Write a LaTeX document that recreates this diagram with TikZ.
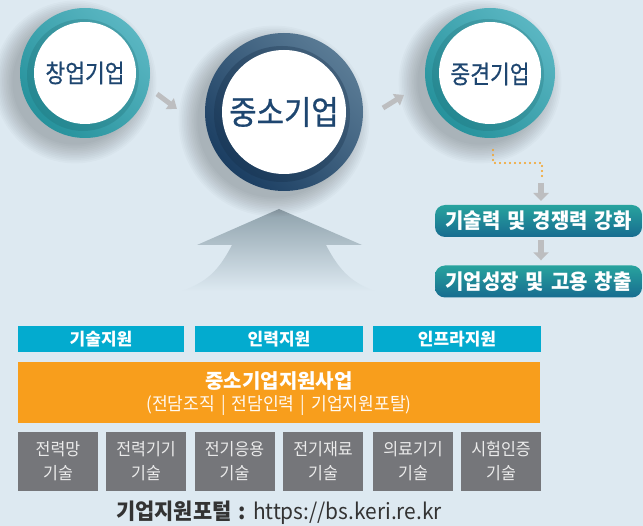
\documentclass[tikz,border=0pt]{standalone}
\usepackage{fontspec}
\usetikzlibrary{arrows.meta}
\newfontfamily\krc[FakeStretch=0.86,FakeBold=0.6]{Noto Sans CJK KR}
\newfontfamily\krcb[FakeStretch=0.9,FakeBold=0.6]{Noto Sans CJK KR}
\newfontfamily\krb[FakeStretch=0.95]{Noto Sans CJK KR}
\newfontfamily\krw{Noto Sans CJK KR}
\definecolor{bg}{HTML}{DDE9F1}
\definecolor{tealL}{HTML}{5AB6C2}
\definecolor{tealD}{HTML}{26929C}
\definecolor{navyL}{HTML}{5A7B95}
\definecolor{navyD}{HTML}{1B3E62}
\definecolor{ctext}{HTML}{1E4670}
\definecolor{cyanbox}{HTML}{03ABCF}
\definecolor{orangebox}{HTML}{F89E1C}
\definecolor{graybox}{HTML}{75767A}
\definecolor{garrow}{HTML}{BDBEC0}
\definecolor{dotor}{HTML}{F5A020}
\definecolor{bigarrow}{HTML}{8FA2AC}
\definecolor{footc}{HTML}{333333}
\definecolor{tbtop}{HTML}{28A39E}
\definecolor{tbbot}{HTML}{176C90}
\tikzset{
  halo/.style={black,opacity=0.018},
  circtext/.style={text=ctext,inner sep=0pt},
  cbox/.style={fill=cyanbox,text=white,inner sep=0pt,minimum height=26pt,font=\krw\bfseries\fontsize{17}{20}\selectfont},
  gbox/.style={fill=graybox,text=white!92!black,inner sep=0pt,minimum width=80pt,minimum height=59pt,align=center,font=\krb\fontsize{17}{24}\selectfont},
  tbox/.style={rounded corners=10pt,top color=tbtop,bottom color=tbbot,text=white,inner sep=0pt,minimum width=207pt,minimum height=32pt,font=\krb\bfseries\fontsize{21}{24}\selectfont},
  smallarrow/.style={garrow,line width=5pt,-{Triangle[width=13pt,length=9pt]}},
  downarrow/.style={garrow,line width=6pt,-{Triangle[width=15pt,length=8pt]}},
  dotline/.style={dotor,line width=2.2pt,line cap=round,dash pattern=on 0pt off 5pt}
}
\begin{document}
\begin{tikzpicture}[x=1pt,y=-1pt]
\useasboundingbox (0,0) rectangle (643,526);
\fill[bg] (0,0) rectangle (643,526);

% big up arrow
\path[top color=bigarrow,bottom color=bg,shading angle=0]
  (279,209) -- (362,245) -- (326,245) .. controls (340,272) and (352,282) .. (374,291)
  -- (182,291) .. controls (206,282) and (218,272) .. (232,245) -- (197,245) -- cycle;

% shadows
\foreach \cx/\cy/\r in {85/73/65, 284/112/79, 490/73/65}{
  \foreach \i in {1,...,12}{
    \fill[halo] (\cx-10,\cy+9) circle ({\r-4+\i*1.7});
  }
}

% circle 1
\path[top color=tealL,bottom color=tealD,shading angle=-45] (85,73) circle (65);
\fill[tealD!70!black,opacity=0.25] (83,75) circle (56);
\fill[white] (85,73) circle (51);
\node[circtext,font=\krc\fontsize{25}{28}\selectfont] (c1) at (85,73) {창업기업};

% circle 2
\path[top color=navyL,bottom color=navyD,shading angle=-45] (284,112) circle (79);
\fill[navyD!70!black,opacity=0.3] (282,114) circle (68);
\fill[white] (284,112) circle (62);
\node[circtext,font=\krcb\fontsize{33}{36}\selectfont] (c2) at (284,112) {중소기업};

% circle 3
\path[top color=tealL,bottom color=tealD,shading angle=-45] (490,73) circle (65);
\fill[tealD!70!black,opacity=0.25] (488,75) circle (56);
\fill[white] (490,73) circle (51);
\node[circtext,font=\krc\fontsize{25}{28}\selectfont] (c3) at (490,74) {중견기업};

% small arrows between circles
\coordinate (a1s) at (157,94);
\coordinate (a1e) at (177,109);
\coordinate (a2s) at (383,108);
\coordinate (a2e) at (404,95);
\draw[smallarrow] (a1s) -- (a1e);
\draw[smallarrow] (a2s) -- (a2e);

% dotted orange
\coordinate (d1) at (493,150);
\coordinate (d2) at (493,163);
\coordinate (d3) at (542,163);
\coordinate (d4) at (542,178);
\draw[dotline] (d1) -- (d2) -- (d3) -- (d4);

% teal boxes
\node[tbox] (t1) at (538.5,221) {기술력\,\,및\,\,경쟁력\,\,강화};
\node[tbox] (t2) at (538.5,281.5) {기업성장\,\,및\,\,고용\,\,창출};
\coordinate (g1s) at (541,183);
\coordinate (g1e) at (541,201);
\draw[downarrow] (g1s) -- (g1e);
\draw[downarrow] ([yshift=-3pt]t1.south -| g1s) -- ([yshift=5pt]t2.north -| g1s);

% cyan boxes
\node[cbox,minimum width=166pt] (s1) at (101,339) {기술지원};
\node[cbox,minimum width=168pt] (s2) at (279,339) {인력지원};
\node[cbox,minimum width=168pt] (s3) at (457,339) {인프라지원};

% orange box
\node[fill=orangebox,minimum width=522pt,minimum height=61pt,inner sep=0pt] (ob) at (279,392.5) {};
\node[text=white,font=\krw\bfseries\fontsize{20}{24}\selectfont,inner sep=0pt] (obt) at (279,381) {중소기업지원사업};
\node[text=white!95!orange,font=\krb\fontsize{18}{22}\selectfont,inner sep=0pt] (obs) at (279,405) {(전담조직\,\,|\,\,전담인력\,\,|\,\,기업지원포탈)};

% gray boxes
\node[gbox] (b1) at (58,461.5) {전력망\\기술};
\node[gbox] (b2) at (146,461.5) {전력기기\\기술};
\node[gbox] (b3) at (234.5,461.5) {전기응용\\기술};
\node[gbox] (b4) at (323,461.5) {전기재료\\기술};
\node[gbox] (b5) at (413,461.5) {의료기기\\기술};
\node[gbox] (b6) at (501,461.5) {시험인증\\기술};

% footer
\node[text=footc,inner sep=0pt,font=\krb\fontsize{22}{24}\selectfont] (foot) at (279,513) {\bfseries 기업지원포털\hspace{7pt}:\hspace{7pt}\mdseries https://bs.keri.re.kr};
\end{tikzpicture}
\end{document}
